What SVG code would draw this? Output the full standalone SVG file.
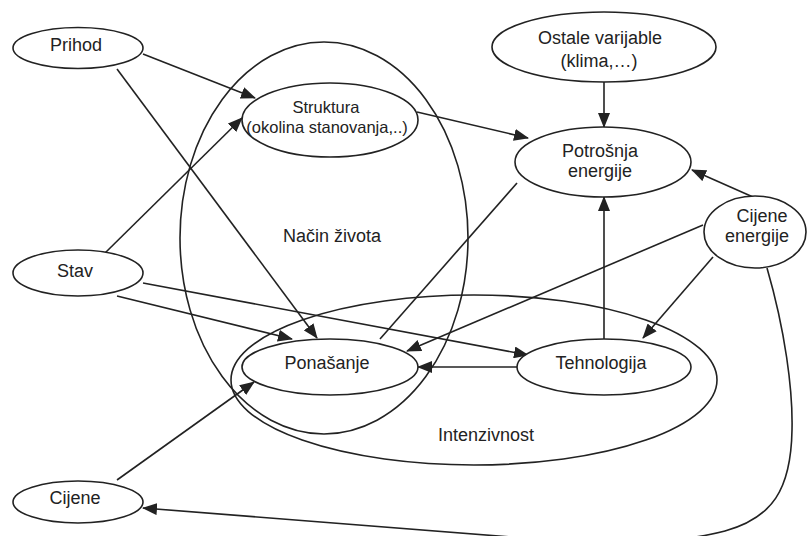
<svg xmlns="http://www.w3.org/2000/svg" width="807" height="536" viewBox="0 0 807 536">
  <style>
    .region { fill: none; stroke: #222; stroke-width: 1.6; }
    .node ellipse { fill: #fff; stroke: #222; stroke-width: 1.6; }
    text { font-family: "Liberation Sans", Arial, sans-serif; font-size: 18px; fill: #222; text-anchor: middle; }
    .small { font-size: 16.5px; }
    .edge { fill: none; stroke: #222; stroke-width: 1.6; }
    .arrow { marker-end: url(#ah); }
  </style>
  <defs>
    <marker id="ah" markerWidth="15" markerHeight="12" refX="14" refY="6" orient="auto" markerUnits="userSpaceOnUse">
      <path d="M0,0 L15,6 L0,12 z" fill="#222"/>
    </marker>
  </defs>
  <rect width="807" height="536" fill="#fff"/>

  <!-- grouping regions -->
  <g id="region-nacin-zivota">
    <ellipse class="region" cx="324" cy="238" rx="144" ry="196"/>
    <text x="332" y="242">Način života</text>
  </g>
  <g id="region-intenzivnost">
    <ellipse class="region" cx="474" cy="380" rx="243" ry="85"/>
    <text x="486" y="441">Intenzivnost</text>
  </g>

  <!-- connectors -->
  <g id="connectors">
    <path class="edge arrow" d="M143,54 L255,98"/>
    <path class="edge arrow" d="M117,69 L317,338"/>
    <path class="edge arrow" d="M105,253 L242,118"/>
    <path class="edge arrow" d="M417,112 L528,138"/>
    <path class="edge arrow" d="M604,82 L604,127"/>
    <path class="edge arrow" d="M753,197 L692,170"/>
    <path class="edge" d="M517,183 L380,339"/>
    <path class="edge arrow" d="M604,339 L604,197"/>
    <path class="edge arrow" d="M703,225 L407,351"/>
    <path class="edge arrow" d="M713,257 L643,338"/>
    <path class="edge arrow" d="M143,283 L528,355"/>
    <path class="edge arrow" d="M117,296 L292,339"/>
    <path class="edge arrow" d="M517,367 L418,367"/>
    <path class="edge arrow" d="M117,480 L254,382"/>
    <path class="edge arrow" d="M767,268 C785,330 793,390 792,430 C791,490 772,518 725,531 C695,539 645,544 600,544 L143,508"/>
  </g>

  <!-- nodes -->
  <g id="prihod" class="node">
    <ellipse cx="78" cy="48" rx="65" ry="20.5"/>
    <text x="76" y="51">Prihod</text>
  </g>
  <g id="struktura" class="node">
    <ellipse cx="330" cy="120" rx="88" ry="37"/>
    <text class="small" x="326" y="113">Struktura</text>
    <text class="small" x="327" y="133">(okolina stanovanja,..)</text>
  </g>
  <g id="ostale-varijable" class="node">
    <ellipse cx="604" cy="47" rx="112" ry="35"/>
    <text x="600" y="44">Ostale varijable</text>
    <text x="599" y="67">(klima,…)</text>
  </g>
  <g id="potrosnja-energije" class="node">
    <ellipse cx="603" cy="162" rx="88" ry="35"/>
    <text x="600" y="157">Potrošnja</text>
    <text x="600" y="177">energije</text>
  </g>
  <g id="cijene-energije" class="node">
    <ellipse cx="755" cy="232" rx="51" ry="36"/>
    <text x="762" y="222">Cijene</text>
    <text x="757" y="242">energije</text>
  </g>
  <g id="stav" class="node">
    <ellipse cx="78" cy="273" rx="65" ry="23"/>
    <text x="75" y="277">Stav</text>
  </g>
  <g id="ponasanje" class="node">
    <ellipse cx="330" cy="367" rx="88" ry="28"/>
    <text x="327" y="369">Ponašanje</text>
  </g>
  <g id="tehnologija" class="node">
    <ellipse cx="604" cy="367" rx="87" ry="28"/>
    <text x="601" y="369">Tehnologija</text>
  </g>
  <g id="cijene" class="node">
    <ellipse cx="78" cy="502" rx="65" ry="21"/>
    <text x="75" y="504">Cijene</text>
  </g>
</svg>
